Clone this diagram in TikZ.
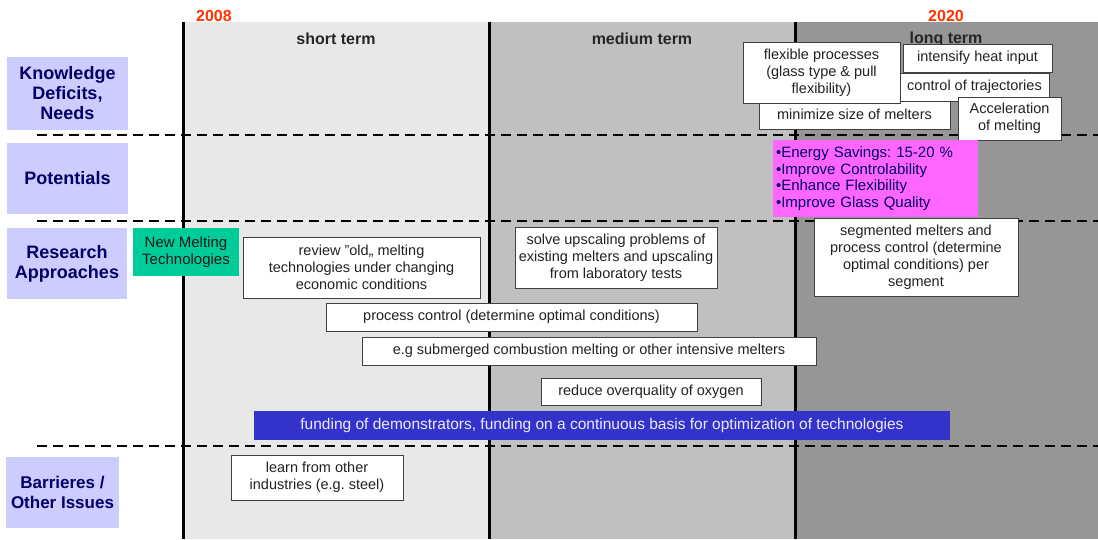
\documentclass[tikz,border=0pt]{standalone}
\usepackage{fontspec}
\setmainfont{Liberation Sans}
\frenchspacing
\definecolor{shortcol}{HTML}{E8E8E8}
\definecolor{medcol}{HTML}{C0C0C0}
\definecolor{longcol}{HTML}{969696}
\definecolor{rowblue}{HTML}{CCCCFF}
\definecolor{navy}{HTML}{000066}
\definecolor{yearred}{HTML}{FF3300}
\definecolor{newgreen}{HTML}{00CC99}
\definecolor{potpink}{HTML}{FF66FF}
\definecolor{fundblue}{HTML}{3333CC}
\definecolor{boxtext}{HTML}{222222}
\tikzset{
  rowlabel/.style={fill=rowblue, text=navy, font=\fontsize{18}{20}\selectfont\bfseries, align=center, inner sep=0pt},
  card/.style={draw=black!75, fill=white, text=boxtext, font=\fontsize{14.5}{17}\selectfont, align=center, inner sep=0pt, line width=0.8pt},
  header/.style={font=\fontsize{16}{18}\selectfont\bfseries, text=black!85},
  year/.style={font=\fontsize{16}{18}\selectfont\bfseries, text=yearred},
  rowsep/.style={dashed, dash pattern=on 10pt off 6pt, line width=2.5pt}
}
\begin{document}
\begin{tikzpicture}[x=1pt,y=-1pt]
\useasboundingbox (0,0) rectangle (1098,539);
\fill[shortcol] (183,22) rectangle (489,539);
\fill[medcol] (489,22) rectangle (795,539);
\fill[longcol] (795,22) rectangle (1098,539);
\foreach \y in {135,221,446}
  \draw[rowsep] (37,\y) -- (1098,\y);
\foreach \x in {183,489,795}
  \draw[line width=3pt] (\x,22) -- (\x,539);
\node[year] (y2008) at (214,16) {2008};
\node[year] (y2020) at (946,16) {2020};
\node[header] (short) at (336,39) {short term};
\node[header] (medium) at (642,39) {medium term};
\node[header] (long) at (946,39) {long term};
\node[rowlabel, minimum width=121, minimum height=73] (needs) at (67.5,93.5) {Knowledge\\Deficits,\\Needs};
\node[rowlabel, minimum width=121, minimum height=71] (potentials) at (67.5,178.5) {Potentials};
\node[rowlabel, minimum width=120, minimum height=71] (research) at (67,263.5) {Research\\Approaches};
\node[rowlabel, font=\fontsize{17}{20}\selectfont\bfseries, minimum width=113, minimum height=71] (barriers) at (62.5,492.5) {Barrieres /\\Other Issues};
\node[card, minimum width=191, minimum height=29] (minsize) at (854.5,114.5) {minimize size of melters};
\node[card, minimum width=157, minimum height=61] (flexible) at (821.5,72.5) {flexible processes\\(glass type \& pull\\flexibility)};
\node[card, minimum width=149, minimum height=28] (heat) at (977.5,58) {intensify heat input};
\node[card, minimum width=149, minimum height=28] (traject) at (974.5,87) {control of trajectories};
\node[card, minimum width=103, minimum height=43] (accel) at (1009.5,118.5) {Acceleration\\of melting};
\node[fill=potpink, text=navy, font=\fontsize{15}{16.7}\selectfont, text width=199pt, inner sep=3pt, minimum height=77, align=left] (gains) at (875.5,178.5) {•Energy Savings: 15-20 \%\\•Improve Controlability\\•Enhance Flexibility\\•Improve Glass Quality};
\node[fill=newgreen, text=black!90, font=\fontsize{15}{17}\selectfont, align=center, inner sep=0pt, minimum width=106, minimum height=48] (newmelt) at (186,252) {New Melting\\Technologies};
\node[card, minimum width=237, minimum height=61] (review) at (361.5,267.5) {review "old„ melting\\technologies under changing\\economic conditions};
\node[card, minimum width=202, minimum height=61] (upscale) at (616,257.5) {solve upscaling problems of\\existing melters and upscaling\\from laboratory tests};
\node[card, minimum width=204, minimum height=78] (segment) at (916,257) {segmented melters and\\process control (determine\\optimal conditions) per\\segment};
\node[card, minimum width=371, minimum height=28] (control) at (511.5,317) {process control (determine optimal conditions)};
\node[card, minimum width=454, minimum height=28] (submerged) at (589,351) {e.g submerged combustion melting or other intensive melters};
\node[card, minimum width=220, minimum height=27] (oxygen) at (651,391.5) {reduce overquality of oxygen};
\node[fill=fundblue, text=blue!8, font=\fontsize{15.5}{17}\selectfont, inner sep=0pt, minimum width=696, minimum height=29] (funding) at (602,425.5) {funding of demonstrators, funding on a continuous basis for optimization of technologies};
\node[card, minimum width=172, minimum height=45] (learn) at (317,477.5) {learn from other\\industries (e.g. steel)};
\end{tikzpicture}
\end{document}
